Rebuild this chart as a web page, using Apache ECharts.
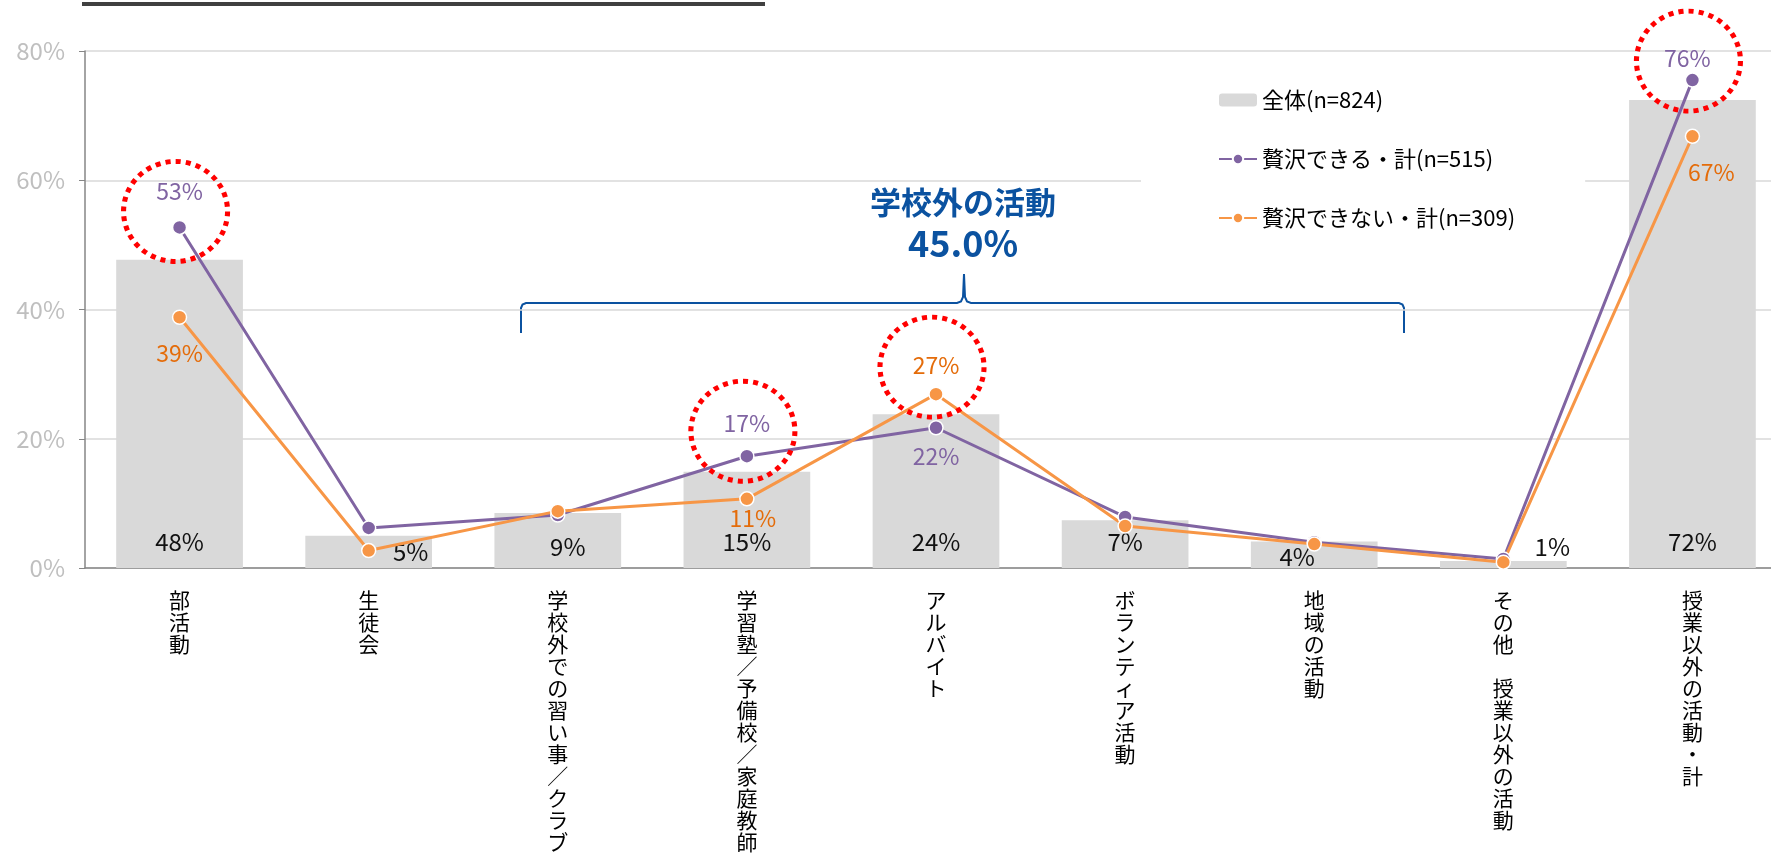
<!DOCTYPE html>
<html>
<head>
<meta charset="utf-8">
<script src="https://cdn.jsdelivr.net/npm/echarts@6/dist/echarts.min.js"></script>
<style>
  html, body { margin: 0; padding: 0; background: #fff; }
  #main { width: 1771px; height: 859px; }
</style>
</head>
<body>
<div id="main"></div>
<script>
// カテゴリと値（%）
var categories = ['部活動', '生徒会', '学校外での習い事／クラブ', '学習塾／予備校／家庭教師',
  'アルバイト', 'ボランティア活動', '地域の活動', 'その他　授業以外の活動', '授業以外の活動・計'];
var totalAll = [47.7, 5.0, 8.5, 14.9, 23.8, 7.4, 4.1, 1.1, 72.4];      // 全体(n=824)
var canAfford = [52.7, 6.2, 8.2, 17.3, 21.7, 7.9, 4.0, 1.4, 75.5];     // 贅沢できる・計(n=515)
var cannotAfford = [38.8, 2.7, 8.8, 10.7, 26.9, 6.5, 3.7, 0.9, 66.8];  // 贅沢できない・計(n=309)
var yTicks = [0, 20, 40, 60, 80];

var seriesNames = ['全体(n=824)', '贅沢できる・計(n=515)', '贅沢できない・計(n=309)'];

var FONT = '"Noto Sans CJK JP", "Noto Sans", sans-serif';
var PURPLE = '#8064a2';
var ORANGE = '#f79646';
var BLUE = '#0b52a0';

// ラベルの位置調整（Excel側で手動で動かしてあるもの）
var barLabelShift = { 1: [42, 10], 2: [10, 5], 6: [-17, 15], 7: [49, 5] };
var purpleLabels = { 0: ['top', 17, 0], 3: ['top', 14, 0], 4: ['bottom', 9, 0], 8: ['top', 3, -5] };
var orangeLabels = { 0: ['bottom', 17, 0], 3: ['bottom', 0, 6], 4: ['top', 10, 0], 8: ['bottom', 17, 19] };

function pct(v) { return Math.round(v) + '%'; }

function barData() {
  return totalAll.map(function (v, i) {
    var s = barLabelShift[i] || [0, 0];
    return { value: v, label: { offset: s } };
  });
}

function lineData(values, labels, color) {
  return values.map(function (v, i) {
    var l = labels[i];
    if (!l) return { value: v, label: { show: false } };
    return {
      value: v,
      label: { show: true, position: l[0], distance: l[1], offset: [l[2], 0], color: color }
    };
  });
}

function ring(idx, values, dy) {
  return { coord: [idx, values[idx]], symbolOffset: [-4, dy] };
}

var myChart = echarts.init(document.getElementById('main'));

var option = {
  animation: false,
  textStyle: { fontFamily: FONT },
  grid: { left: 85, top: 51, width: 1702, bottom: 291, outerBoundsMode: 'none', containLabel: false },
  legend: {
    orient: 'vertical',
    left: 1141,
    top: 75,
    padding: [14, 70, 14, 77],
    backgroundColor: '#fff',
    itemGap: 37,
    itemWidth: 38,
    itemHeight: 13,
    selectedMode: false,
    textStyle: { fontSize: 22, lineHeight: 22, color: '#000', fontFamily: FONT },
    data: seriesNames
  },
  xAxis: {
    type: 'category',
    data: categories,
    axisLine: { lineStyle: { color: '#868686', width: 1.5 } },
    axisTick: { length: 7, lineStyle: { color: '#868686' } },
    axisLabel: {
      interval: 0,
      margin: 21,
      fontSize: 21,
      lineHeight: 22,
      color: '#000',
      fontFamily: FONT,
      formatter: function (v) { return v.split('').join('\n'); }
    }
  },
  yAxis: {
    type: 'value',
    min: yTicks[0],
    max: yTicks[yTicks.length - 1],
    interval: 20,
    axisLine: { show: true, lineStyle: { color: '#868686', width: 1.5 } },
    axisTick: { show: true, length: 6, lineStyle: { color: '#868686' } },
    axisLabel: { fontSize: 24, color: '#bfbfbf', margin: 20, formatter: '{value}%', fontFamily: FONT },
    splitLine: { lineStyle: { color: '#d9d9d9', width: 1.5 } }
  },
  series: [
    {
      name: seriesNames[0],
      type: 'bar',
      barWidth: '67%',
      itemStyle: { color: '#d9d9d9' },
      label: {
        show: true,
        position: 'insideBottom',
        distance: 14,
        fontSize: 24,
        color: '#111',
        formatter: function (p) { return pct(p.value); }
      },
      data: barData()
    },
    {
      name: seriesNames[1],
      type: 'line',
      symbol: 'circle',
      symbolSize: 14,
      lineStyle: { color: PURPLE, width: 3 },
      itemStyle: { color: PURPLE, borderColor: '#fff', borderWidth: 1.5 },
      label: { fontSize: 23, formatter: function (p) { return pct(p.value); } },
      data: lineData(canAfford, purpleLabels, PURPLE),
      markPoint: {
        symbol: 'circle',
        symbolSize: [104, 100],
        silent: true,
        label: { show: false },
        itemStyle: { color: 'transparent', borderColor: '#ff0000', borderWidth: 5, borderType: [5, 5] },
        data: [ring(0, canAfford, -16), ring(3, canAfford, -25), ring(8, canAfford, -19)]
      }
    },
    {
      name: seriesNames[2],
      type: 'line',
      symbol: 'circle',
      symbolSize: 14,
      lineStyle: { color: ORANGE, width: 3 },
      itemStyle: { color: ORANGE, borderColor: '#fff', borderWidth: 1.5 },
      label: { fontSize: 23, formatter: function (p) { return pct(p.value); } },
      data: lineData(cannotAfford, orangeLabels, '#e46c0a'),
      markPoint: {
        symbol: 'circle',
        symbolSize: [104, 100],
        silent: true,
        label: { show: false },
        itemStyle: { color: 'transparent', borderColor: '#ff0000', borderWidth: 5, borderType: [5, 5] },
        data: [ring(4, cannotAfford, -27)]
      }
    }
  ],
  graphic: [
    { type: 'rect', shape: { x: 82, y: 2, width: 683, height: 4 }, style: { fill: '#404040' } },
    {
      type: 'polyline',
      shape: {
        points: [[521, 333], [521, 308], [522.5, 304.5], [526, 303], [957, 303], [961, 301.5],
                 [963, 297], [964, 274], [965, 297], [967, 301.5], [971, 303], [1399, 303],
                 [1402.5, 304.5], [1404, 308], [1404, 333]]
      },
      style: { fill: 'none', stroke: BLUE, lineWidth: 2 }
    },
    {
      type: 'text', x: 963, y: 202,
      style: { text: '学校外の活動', fill: BLUE, font: 'bold 31px ' + FONT, align: 'center', verticalAlign: 'middle' }
    },
    {
      type: 'text', x: 963, y: 243,
      style: { text: '45.0%', fill: BLUE, font: 'bold 36px ' + FONT, align: 'center', verticalAlign: 'middle' }
    }
  ]
};

myChart.setOption(option);
</script>
</body>
</html>
